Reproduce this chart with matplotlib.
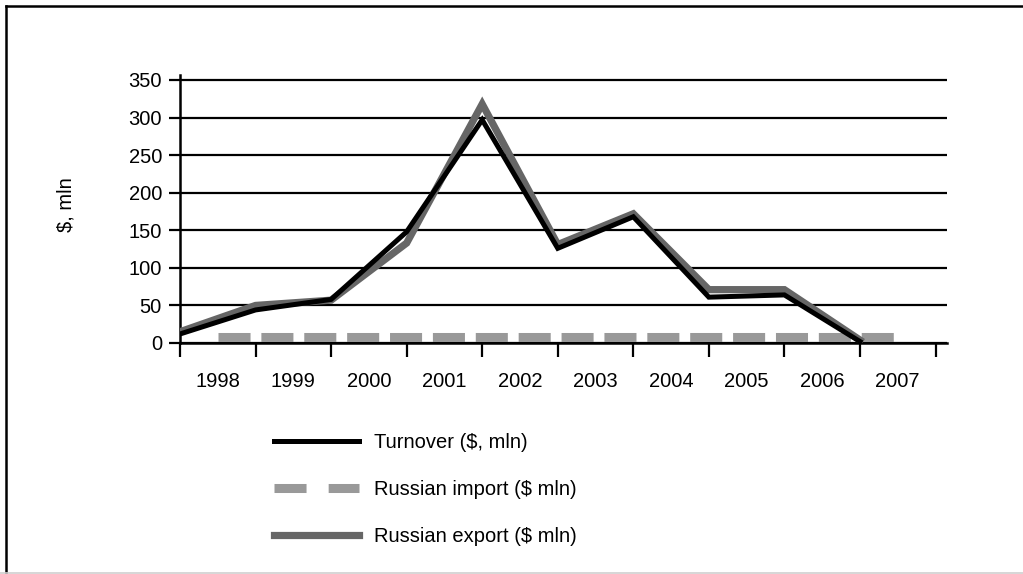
import matplotlib
matplotlib.use("Agg")
import matplotlib.pyplot as plt
from matplotlib.lines import Line2D

plt.rcParams['font.family'] = ['Liberation Sans', 'DejaVu Sans']

years = ['1998', '1999', '2000', '2001', '2002', '2003', '2004', '2005', '2006', '2007']
turnover = [12, 44, 58, 148, 297, 126, 168, 61, 64, 2]
russian_import = [8, 8, 8, 8, 8, 8, 8, 8, 8, 8]
russian_export = [15, 50, 57, 133, 318, 131, 172, 71, 71, 4]

W, H = 1023, 574
fig = plt.figure(figsize=(W / 100, H / 100), dpi=100)
ax = fig.add_axes([180 / W, 1 - 343 / H, (947 - 180) / W, (343 - 75) / H])

n = len(years)
pos = list(range(n))
mid = [p + 0.5 for p in pos]

ax.plot(mid, russian_import, color='#999999', lw=6.5, dashes=(3.55, 1.2),
        solid_capstyle='butt', dash_capstyle='butt', zorder=2)
ax.plot(pos, russian_export, color='#666666', lw=5.2, solid_joinstyle='miter', zorder=3)
ax.plot(pos, turnover, color='black', lw=3.6, solid_joinstyle='miter', zorder=4)

step_px = (935.5 - 180) / 10
ax.set_xlim(0, (947 - 180) / step_px)
ax.set_ylim(0, 350 * (343 - 75) / (343 - 80))

ax.set_yticks(range(0, 351, 50))
ax.yaxis.grid(True, color='black', lw=1.6)
ax.set_axisbelow(True)
ax.set_xticks(range(0, n + 1))
ax.set_xticklabels([])
ax.set_xticks(mid, minor=True)
ax.set_xticklabels(years, minor=True)
ax.tick_params(axis='x', which='major', length=10, width=1.6, direction='out', color='black')
ax.tick_params(axis='x', which='minor', length=0, pad=21, labelsize=14.5)
ax.tick_params(axis='y', length=8, width=1.6, direction='out', labelsize=14.5, pad=5)

for s in ['top', 'right']:
    ax.spines[s].set_visible(False)
for s in ['left', 'bottom']:
    ax.spines[s].set_linewidth(1.8)
    ax.spines[s].set_color('black')

fig.text(66 / W, 1 - 205 / H, '$, mln', rotation=90, fontsize=14.5, ha='center', va='center')

handles = [
    Line2D([], [], color='black', lw=3.6),
    Line2D([], [], color='#999999', lw=6.5, dashes=(3.55, 2.45), dash_capstyle='butt'),
    Line2D([], [], color='#666666', lw=5.2),
]
labels = ['Turnover ($, mln)', 'Russian import ($ mln)', 'Russian export ($ mln)']
fig.legend(handles, labels, loc='upper left', bbox_to_anchor=(274 / W, 1 - 433 / H),
           frameon=False, fontsize=14.5, handlelength=4.2, handletextpad=0.75,
           labelspacing=1.38, borderaxespad=0, borderpad=0)

# outer frame
fig.add_artist(Line2D([6 / W, 6 / W], [0, 1 - 6 / H], transform=fig.transFigure,
                      color='black', lw=1.8))
fig.add_artist(Line2D([6 / W, 1], [1 - 6 / H, 1 - 6 / H], transform=fig.transFigure,
                      color='black', lw=1.8))
fig.add_artist(Line2D([0, 1], [1 / H, 1 / H], transform=fig.transFigure,
                      color='#d0d0d0', lw=1.2))

fig.savefig('out.png', dpi=100)
